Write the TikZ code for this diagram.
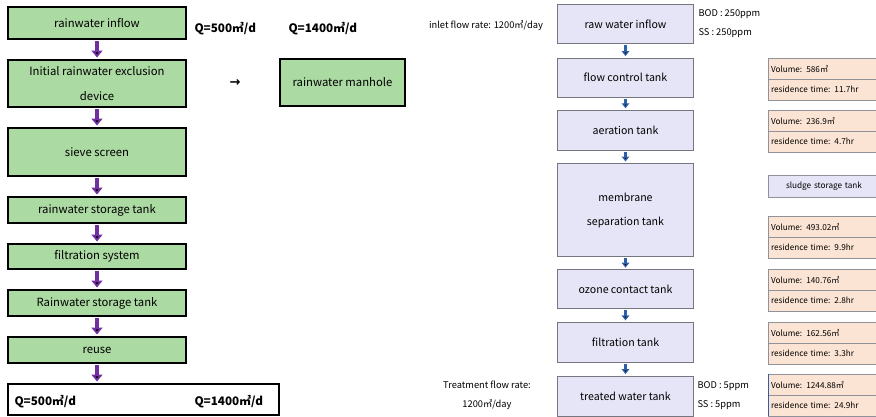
\documentclass[tikz,border=0pt]{standalone}
\usepackage{fontspec}
\setmainfont{Noto Sans CJK KR}
\newfontfamily\symfont{DejaVu Sans}
\usetikzlibrary{arrows.meta,positioning}

\definecolor{rainfill}{RGB}{172,218,163}
\definecolor{tankfill}{RGB}{229,229,247}
\definecolor{datafill}{RGB}{252,228,212}
\definecolor{tankline}{RGB}{118,118,128}
\definecolor{flowpurple}{RGB}{112,48,160}
\definecolor{flowblue}{RGB}{46,96,168}

\begin{document}
\begin{tikzpicture}[x=1pt,y=-1pt,node distance=19pt,
    rain/.style={draw=black,line width=2pt,fill=rainfill,minimum width=178pt,
                 inner sep=0pt,align=center,font=\fontsize{11.3}{25}\selectfont},
    tank/.style={draw=tankline,line width=1.2pt,fill=tankfill,minimum width=136pt,
                 inner sep=0pt,align=center,font=\fontsize{10.6}{24}\selectfont},
    datarow/.style={draw=tankline!80,line width=0.8pt,fill=datafill,outer sep=0pt,
                 minimum width=112pt,minimum height=21pt,text width=106pt,
                 inner xsep=3pt,inner ysep=0pt,align=left,font=\fontsize{8.2}{10}\selectfont},
    qtext/.style={anchor=west,font=\fontsize{11.7}{14}\selectfont\bfseries},
    note/.style={font=\fontsize{9.3}{19}\selectfont,align=center},
    purpleflow/.style={draw=flowpurple,line width=4.5pt,shorten <=1pt,shorten >=1.5pt,
                 -{Triangle[width=11pt,length=7pt]}},
    blueflow/.style={draw=flowblue,line width=2.8pt,shorten <=1pt,shorten >=1.5pt,
                 -{Triangle[width=7.5pt,length=5pt]}}]
  \useasboundingbox (0,0) rectangle (876,416);

  % rainwater line
  \node[rain,minimum height=32pt] (inflow) at (97,23) {rainwater inflow};
  \node[rain,minimum height=47pt] (exclude) [below=of inflow]
       {Initial rainwater exclusion\\device};
  \node[rain,minimum height=48pt] (sieve)   [below=of exclude] {sieve screen};
  \node[rain,minimum height=26pt] (store)   [below=of sieve]   {rainwater storage tank};
  \node[rain,minimum height=25pt] (filter)  [below=of store]   {filtration system};
  \node[rain,minimum height=26pt] (store2)  [below=of filter]  {Rainwater storage tank};
  \node[rain,minimum height=26pt] (reuse)   [below=of store2]  {reuse};
  \node[rain,fill=white,minimum width=271pt,minimum height=31pt] (total)
       [below=19pt of reuse.south west,anchor=north west] {};
  \node[qtext] (qlow)  at (11,402) {Q=500㎥/d};
  \node[qtext] (qhigh) at (191,402) {Q=1400㎥/d};

  \node[qtext] (qin)   at (191,29) {Q=500㎥/d};
  \node[qtext] (qin2)  at (285,29) {Q=1400㎥/d};
  \node[rain,minimum width=125pt,minimum height=47pt] (manhole) at (342.5,82.5)
       {rainwater manhole};
  \node[font=\symfont\bfseries\fontsize{13}{14}\selectfont] (bypass) at (235,83) {→};

  \path[purpleflow] (inflow) edge (exclude)
                    (exclude) edge (sieve)
                    (sieve) edge (store)
                    (store) edge (filter)
                    (filter) edge (store2)
                    (store2) edge (reuse)
                    (reuse) edge (reuse |- total.north);

  % wastewater treatment line
  \node[tank,minimum height=39pt] (raw) at (625.5,24) {raw water inflow};
  \node[tank,minimum height=39pt] (control)  [below=13.5pt of raw]     {flow control tank};
  \node[tank,minimum height=40pt] (aeration) [below=12pt of control]   {aeration tank};
  \node[tank,minimum height=93pt] (membrane) [below=12pt of aeration]  {membrane\\separation tank};
  \node[tank,minimum height=39pt] (ozone)    [below=12pt of membrane]  {ozone contact tank};
  \node[tank,minimum height=40pt] (sandtank) [below=12.5pt of ozone]   {filtration tank};
  \node[tank,minimum height=40pt] (treated)  [below=12.5pt of sandtank] {treated water tank};

  \path[blueflow] (raw) edge (control)
                  (control) edge (aeration)
                  (aeration) edge (membrane)
                  (membrane) edge (ozone)
                  (ozone) edge (sandtank)
                  (sandtank) edge (treated);

  \node[note] (inrate) at (486,26) {inlet flow rate: 1200㎥/day};
  \node[note] (outrate) at (487,395.5) {Treatment flow rate:\\1200㎥/day};
  \node[note,anchor=west,align=left] (inqual)  at (695,24) {BOD : 250ppm\\SS : 250ppm};
  \node[note,anchor=west,align=left] (outqual) at (694,396) {BOD : 5ppm\\SS : 5ppm};

  % tank volumes and residence times
  \node[datarow,anchor=north west] (vol1) at (768,58) {Volume: 586㎥};
  \node[datarow,below=0pt of vol1] (res1) {residence time: 11.7hr};
  \node[datarow,anchor=north west] (vol2) at (768,110) {Volume: 236.9㎥};
  \node[datarow,below=0pt of vol2] (res2) {residence time: 4.7hr};
  \node[datarow,fill=tankfill,minimum height=22pt,align=center,anchor=north west]
       (sludge) at (768,175) {sludge storage tank};
  \node[datarow,anchor=north west] (vol3) at (768,216) {Volume: 493.02㎥};
  \node[datarow,below=0pt of vol3] (res3) {residence time: 9.9hr};
  \node[datarow,anchor=north west] (vol4) at (768,269) {Volume: 140.76㎥};
  \node[datarow,below=0pt of vol4] (res4) {residence time: 2.8hr};
  \node[datarow,anchor=north west] (vol5) at (768,322) {Volume: 162.56㎥};
  \node[datarow,below=0pt of vol5] (res5) {residence time: 3.3hr};
  \node[datarow,anchor=north west] (vol6) at (768,374) {Volume: 1244.88㎥};
  \node[datarow,below=0pt of vol6] (res6) {residence time: 24.9hr};
  \draw[flowblue,line width=1pt] (vol6.north west) -- (res6.south west);
\end{tikzpicture}
\end{document}
